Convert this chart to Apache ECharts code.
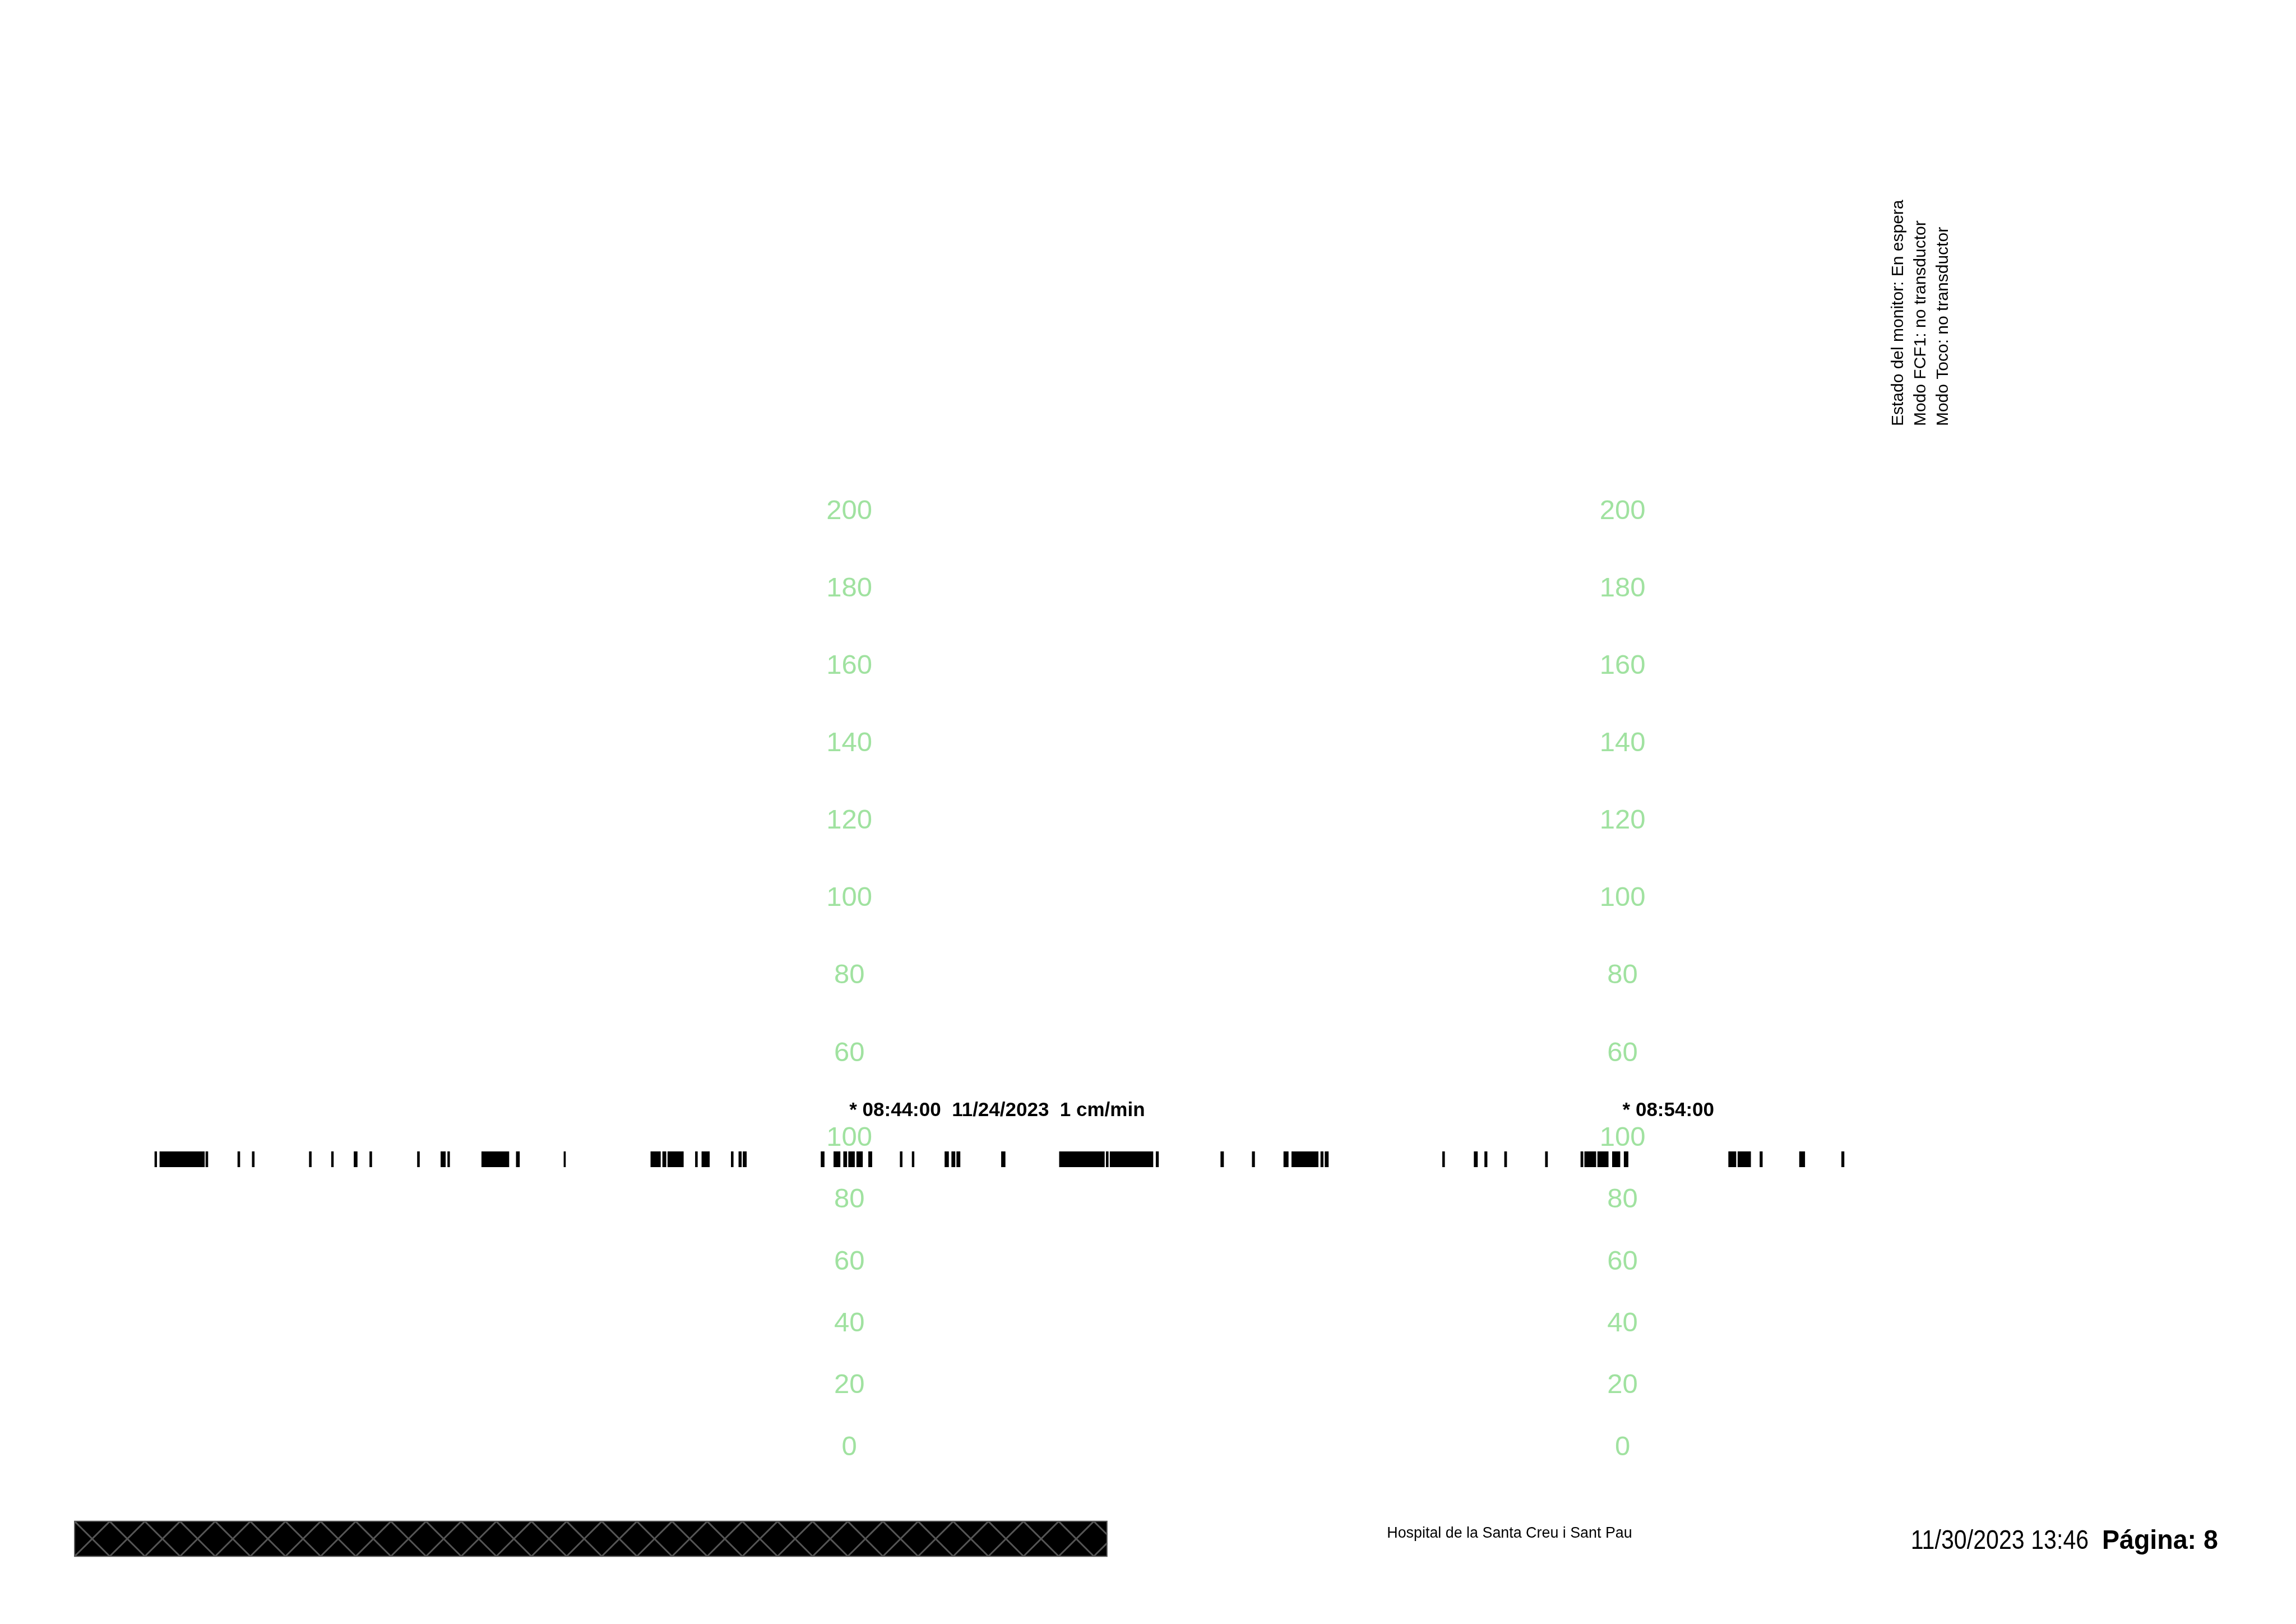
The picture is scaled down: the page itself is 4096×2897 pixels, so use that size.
<!DOCTYPE html>
<html>
<head>
<meta charset="utf-8">
<script src="https://cdn.jsdelivr.net/npm/echarts@6/dist/echarts.min.js"></script>
<style>
html,body{margin:0;padding:0;background:#fff;}
#c{width:4096px;height:2897px;}
</style>
</head>
<body>
<div id="c"></div>
<script>
// ---------- data ----------
// time axis: seconds after 08:35:00
const xRange = [0, 1320];
const fhrTicks = [60, 80, 100, 120, 140, 160, 180, 200];
const tocoTicks = [0, 20, 40, 60, 80, 100];
const labelColumnsSec = [540, 1140];           // 08:44:00 and 08:54:00
const timeMarkSec = [540, 1140];
const timeMarkText = ['* 08:44:00  11/24/2023  1 cm/min', '* 08:54:00'];
// event marker strip: start / end (seconds after 08:35:00)
const stripStart = [0.8, 4.7, 40.4, 65.2, 76.4, 120.7, 137.9, 155.4, 167.6, 204.6,
  222.8, 228.1, 254.5, 281.3, 318.3, 385.7, 394.9, 398.9, 420.3, 425.3,
  448.1, 454.0, 457.3, 517.8, 527.7, 535.3, 539.2, 545.5, 554.7, 579.2,
  588.5, 613.9, 619.2, 623.1, 657.8, 702.8, 739.1, 742.1, 777.8, 828.0,
  852.4, 876.9, 883.1, 905.6, 908.9, 1000.1, 1024.6, 1032.8, 1048.2, 1079.9,
  1107.4, 1110.4, 1120.5, 1131.9, 1141.0, 1222.1, 1229.3, 1246.4, 1277.1, 1309.8];
const stripEnd = [2.7, 39.7, 42.4, 67.2, 78.4, 122.7, 139.8, 158.3, 169.6, 206.6,
  226.7, 230.0, 276.0, 284.2, 319.9, 393.6, 397.9, 411.4, 422.3, 431.6,
  450.1, 456.4, 460.3, 520.7, 533.0, 538.2, 544.2, 550.4, 557.7, 581.2,
  590.4, 617.2, 622.2, 626.1, 661.1, 738.1, 741.1, 775.8, 780.1, 830.6,
  854.7, 880.8, 904.0, 907.9, 911.9, 1002.1, 1027.6, 1035.1, 1050.3, 1082.0,
  1109.5, 1119.5, 1129.1, 1138.2, 1144.5, 1228.2, 1239.6, 1248.7, 1281.6, 1312.1];
const statusLines = ['Estado del monitor: En espera', 'Modo FCF1: no transductor', 'Modo Toco: no transductor'];
const footerHospital = 'Hospital de la Santa Creu i Sant Pau';
const footerDate = '11/30/2023 13:46';
const footerPage = 'Página: 8';

// ---------- layout (reference px * S) ----------
const S = 4096 / 5847;
const FONT = "'Liberation Sans', Arial, Helvetica, sans-serif";
const GREEN = '#a0e2a0';
const L = {
  left: 390.9 * S, width: 4331.8 * S,
  fhrTop: 1298 * S + 3, fhrH: 1380 * S,
  tocoTop: 2894 * S + 3, tocoH: 785 * S + 2,
  stripTop: 2932 * S, stripH: 40 * S
};

const chart = echarts.init(document.getElementById('c'), null, {renderer: 'canvas'});

function yAx(gridIndex, ticks, offset) {
  return {
    type: 'value', gridIndex: gridIndex, position: 'left', offset: offset,
    min: ticks[0], max: ticks[ticks.length - 1], interval: ticks[1] - ticks[0],
    axisLine: {show: false}, axisTick: {show: false}, splitLine: {show: false},
    axisLabel: {
      show: true, showMinLabel: true, showMaxLabel: true,
      color: GREEN, fontSize: 49, fontFamily: FONT,
      align: 'center', verticalAlign: 'middle', margin: 0
    }
  };
}

const gridBase = {left: L.left, width: L.width, outerBoundsMode: 'none', containLabel: false};

const hatch = (function () {
  const x0 = 190 * S, y0 = 3874 * S, w = 2629 * S, h = 89 * S, cell = 89.5 * S;
  const xr = x0 + w;
  function clip(x1, y1, x2, y2) {
    if (x1 <= xr && x2 <= xr) return [x1, y1, x2, y2];
    if (x1 > xr && x2 > xr) return null;
    const t = (xr - x1) / (x2 - x1);
    const yi = y1 + t * (y2 - y1);
    return x1 <= xr ? [x1, y1, xr, yi] : [xr, yi, x2, y2];
  }
  const children = [{
    type: 'rect', shape: {x: x0, y: y0, width: w, height: h},
    style: {fill: '#000', stroke: '#555', lineWidth: 2}
  }];
  for (let k = 0; x0 + k * cell < xr; k++) {
    const a = x0 + k * cell, b = a + cell;
    [[a, y0, b, y0 + h], [b, y0, a, y0 + h]].forEach(s => {
      const c = clip(s[0], s[1], s[2], s[3]);
      if (c) children.push({
        type: 'line', shape: {x1: c[0], y1: c[1], x2: c[2], y2: c[3]},
        style: {stroke: '#555', lineWidth: 3}
      });
    });
  }
  return {type: 'group', children: children};
})();

function txt(text, x, y, size, opts) {
  opts = opts || {};
  return {
    type: 'text', x: x, y: y, rotation: opts.rotation || 0,
    scaleX: opts.scaleX || 1, scaleY: 1,
    style: {
      text: text, fill: '#000', fontSize: size, fontFamily: FONT,
      fontWeight: opts.bold ? 'bold' : 'normal',
      align: 'left', verticalAlign: 'middle',
      textAlign: 'left', textVerticalAlign: 'middle'
    }
  };
}

const statusX = [4835, 4891.5, 4948.5];
const graphics = [hatch];
statusLines.forEach((s, i) => graphics.push(txt(s, statusX[i] * S, 1085 * S, 30, {rotation: Math.PI / 2})));
graphics.push(txt(footerHospital, 3532 * S, 3899 * S + 4, 27.7, {scaleX: 0.97}));
graphics.push(txt(footerDate, 4866 * S, 3918 * S + 5, 49, {scaleX: 0.84}));
graphics.push(txt(footerPage, 5353 * S, 3918 * S + 5, 49, {bold: true, scaleX: 0.95}));

const option = {
  backgroundColor: '#fff',
  animation: false,
  grid: [
    Object.assign({}, gridBase, {top: L.fhrTop, height: L.fhrH}),
    Object.assign({}, gridBase, {top: L.tocoTop, height: L.tocoH}),
    Object.assign({}, gridBase, {top: L.stripTop, height: L.stripH})
  ],
  xAxis: [
    {type: 'value', gridIndex: 0, min: xRange[0], max: xRange[1], show: false},
    {
      type: 'value', gridIndex: 1, min: xRange[0], max: xRange[1], position: 'top',
      axisLine: {show: false}, axisTick: {show: false}, splitLine: {show: false},
      axisLabel: {
        show: true, customValues: timeMarkSec,
        formatter: function (v) { const i = timeMarkSec.indexOf(v); return i >= 0 ? timeMarkText[i] : ''; },
        color: '#000', fontSize: 35, fontWeight: 'bold', fontFamily: FONT,
        align: 'left', verticalAlign: 'middle', margin: 72.5 * S - 2
      }
    },
    {type: 'value', gridIndex: 2, min: xRange[0], max: xRange[1], show: false}
  ],
  yAxis: [
    yAx(0, fhrTicks, 0), yAx(0, fhrTicks, 0),
    yAx(1, tocoTicks, 0), yAx(1, tocoTicks, 0),
    {type: 'value', gridIndex: 2, min: 0, max: 1, show: false}
  ],
  series: [{
    type: 'custom', xAxisIndex: 2, yAxisIndex: 4, silent: true,
    encode: {x: [0, 1]},
    data: stripStart.map((s, i) => [s, stripEnd[i]]),
    renderItem: function (params, api) {
      const p0 = api.coord([api.value(0), 0]);
      const p1 = api.coord([api.value(1), 1]);
      return {
        type: 'rect',
        shape: {x: p0[0], y: p1[1], width: p1[0] - p0[0], height: p0[1] - p1[1]},
        style: {fill: '#000'}
      };
    }
  }],
  graphic: graphics
};

chart.setOption(option);
// place label columns at the 08:44 / 08:54 positions of the time axis
const colPx = labelColumnsSec.map(s => chart.convertToPixel({xAxisIndex: 0}, s));
chart.setOption({
  yAxis: [
    {offset: -(colPx[0] - L.left)}, {offset: -(colPx[1] - L.left)},
    {offset: -(colPx[0] - L.left)}, {offset: -(colPx[1] - L.left)},
    {}
  ]
});
</script>
</body>
</html>
